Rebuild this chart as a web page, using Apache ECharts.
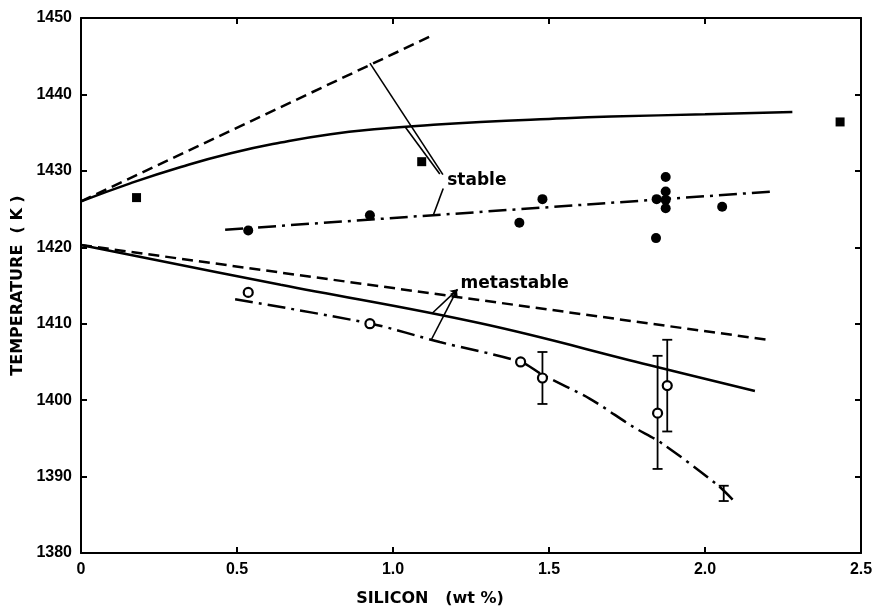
<!DOCTYPE html>
<html>
<head>
<meta charset="utf-8">
<script src="https://cdn.jsdelivr.net/npm/echarts@6/dist/echarts.min.js"></script>
<style>
html,body{margin:0;padding:0;background:#fff;}
#chart{width:877px;height:615px;}
</style>
</head>
<body>
<div id="chart"></div>
<script>
// ---- data (wt % Si, temperature K) ----
const xTickLabels = ['0', '0.5', '1.0', '1.5', '2.0', '2.5'];
const yTickLabels = ['1380', '1390', '1400', '1410', '1420', '1430', '1440', '1450'];

const stableDashed = [[0, 1426.0], [1.12, 1447.6]];
const stableSolid = [[0, 1426.0], [0.16, 1428.4], [0.32, 1430.5], [0.48, 1432.3], [0.64, 1433.7], [0.80, 1434.8], [0.96, 1435.5], [1.12, 1436.0], [1.28, 1436.4], [1.50, 1436.8], [1.70, 1437.1], [2.00, 1437.4], [2.28, 1437.7]];
const stableDashDot = [[0.462, 1422.3], [2.219, 1427.3]];

const metaDashed = [[0, 1420.3], [2.2, 1407.9]];
const metaSolid = [[0, 1420.3], [0.64, 1415.1], [1.28, 1410.05], [1.82, 1404.6], [2.16, 1401.2]];
const metaDashDot = [[0.494, 1413.2], [0.93, 1410.0], [1.15, 1407.6], [1.41, 1405.0], [1.48, 1403.3], [1.63, 1400.2], [1.77, 1396.5], [1.86, 1394.4], [2.04, 1388.9], [2.10, 1386.5]];

const squarePoints = [[0.178, 1426.5], [1.092, 1431.2], [2.433, 1436.4]];
const filledCircles = [[0.536, 1422.2], [0.926, 1424.2], [1.405, 1423.2], [1.479, 1426.3], [1.845, 1426.3], [1.843, 1421.2], [1.874, 1429.2], [1.874, 1427.3], [1.874, 1426.2], [1.874, 1425.1], [2.055, 1425.3]];
const openCircles = [[0.536, 1414.1], [0.926, 1410.0], [1.409, 1405.0], [1.479, 1402.9], [1.848, 1398.3], [1.879, 1401.9]];
// [x, low, high]
const errorBars = [[1.479, 1399.5, 1406.3], [1.848, 1391.0, 1405.8], [1.879, 1395.9, 1407.9], [2.06, 1386.8, 1388.8]];

// annotation leaders (data coordinates)
const stableLeaders = [
  [[0.926, 1444.1], [1.160, 1429.5]],
  [[1.038, 1435.8], [1.150, 1429.6]],
  [[1.161, 1427.7], [1.129, 1424.2]]
];
const metaLeaders = [
  [[1.124, 1411.3], [1.207, 1414.5]],
  [[1.124, 1408.0], [1.205, 1414.4]]
];
const annotationLabels = [[1.172, 1428.7, 'stable'], [1.215, 1415.3, 'metastable']];

const BLACK = '#000';
const tickFont = {fontFamily: 'Liberation Sans', fontWeight: 'bold', fontSize: 16, color: BLACK};
const nameFont = {fontFamily: 'DejaVu Sans', fontWeight: 'bold', fontSize: 16, color: BLACK};

function lineSeries(data, type, smooth) {
  return {
    type: 'line', data: data, symbol: 'none', smooth: smooth || false, silent: true,
    xAxisIndex: 0, yAxisIndex: 0,
    lineStyle: {color: BLACK, width: 2.5, type: type, cap: 'butt', opacity: 1}, z: 3
  };
}

const axisCommon = {
  axisLine: {show: true, onZero: false, lineStyle: {color: BLACK, width: 2}},
  axisTick: {show: true, inside: true, length: 6, lineStyle: {color: BLACK, width: 2}},
  splitLine: {show: false}
};

const chart = echarts.init(document.getElementById('chart'), null, {renderer: 'canvas'});
const option = {
  animation: false,
  backgroundColor: '#fff',
  grid: {left: 81, right: 16, top: 18, bottom: 62},
  xAxis: [
    Object.assign({
      type: 'value', min: 0, max: 2.5, interval: 0.5, position: 'bottom',
      name: 'SILICON   (wt %)', nameLocation: 'middle', nameGap: 38,
      nameTextStyle: Object.assign({}, nameFont, {padding: [0, 82, 0, 0]}),
      axisLabel: Object.assign({margin: 9, formatter: function (v) { return xTickLabels[Math.round(v / 0.5)]; }}, tickFont)
    }, axisCommon),
    Object.assign({
      type: 'value', min: 0, max: 2.5, interval: 0.5, position: 'top',
      axisLabel: {show: false}
    }, axisCommon)
  ],
  yAxis: [
    Object.assign({
      type: 'value', min: 1380, max: 1450, interval: 10, position: 'left',
      name: 'TEMPERATURE  ( K )', nameLocation: 'middle', nameGap: 47,
      nameTextStyle: nameFont,
      axisLabel: Object.assign({margin: 9, formatter: function (v) { return yTickLabels[Math.round((v - 1380) / 10)]; }}, tickFont)
    }, axisCommon),
    Object.assign({
      type: 'value', min: 1380, max: 1450, interval: 10, position: 'right',
      axisLabel: {show: false}
    }, axisCommon)
  ],
  series: [
    lineSeries(stableDashed, [11, 6]),
    lineSeries(stableSolid, 'solid', 0.5),
    lineSeries(stableDashDot, [18, 6, 3, 6]),
    lineSeries(metaDashed, [11, 6]),
    lineSeries(metaSolid, 'solid', 0.4),
    lineSeries(metaDashDot, [18, 6, 3, 6], 0.3),
    {
      type: 'lines', coordinateSystem: 'cartesian2d', silent: true, z: 4,
      lineStyle: {color: BLACK, width: 1.6, opacity: 1},
      data: stableLeaders.map(function (c) { return {coords: c}; })
    },
    {
      type: 'lines', coordinateSystem: 'cartesian2d', silent: true, z: 4,
      symbol: ['none', 'arrow'], symbolSize: 7,
      lineStyle: {color: BLACK, width: 1.6, opacity: 1},
      data: metaLeaders.map(function (c) { return {coords: c}; })
    },
    {
      type: 'custom', silent: true, z: 5,
      data: errorBars,
      encode: {x: 0, y: [1, 2]},
      renderItem: function (params, api) {
        const x = api.value(0);
        const lo = api.coord([x, api.value(1)]);
        const hi = api.coord([x, api.value(2)]);
        const w = 5;
        const st = {stroke: BLACK, lineWidth: 1.8};
        return {
          type: 'group',
          children: [
            {type: 'line', shape: {x1: lo[0], y1: lo[1], x2: hi[0], y2: hi[1]}, style: st},
            {type: 'line', shape: {x1: lo[0] - w, y1: lo[1], x2: lo[0] + w, y2: lo[1]}, style: st},
            {type: 'line', shape: {x1: hi[0] - w, y1: hi[1], x2: hi[0] + w, y2: hi[1]}, style: st}
          ]
        };
      }
    },
    {
      type: 'scatter', data: squarePoints, symbol: 'rect', symbolSize: 9, silent: true, z: 6,
      itemStyle: {color: BLACK, opacity: 1}
    },
    {
      type: 'scatter', data: filledCircles, symbol: 'circle', symbolSize: 10, silent: true, z: 6,
      itemStyle: {color: BLACK, opacity: 1}
    },
    {
      type: 'scatter', data: openCircles, symbol: 'circle', symbolSize: 9, silent: true, z: 6,
      itemStyle: {color: '#fff', borderColor: BLACK, borderWidth: 2.2, opacity: 1}
    },
    {
      type: 'scatter', silent: true, z: 7,
      data: annotationLabels.map(function (a) { return {value: [a[0], a[1]], name: a[2]}; }),
      symbolSize: 1, itemStyle: {color: 'rgba(0,0,0,0)', opacity: 1},
      label: {
        show: true, position: 'right', distance: 0, opacity: 1,
        formatter: function (p) { return p.name; },
        fontFamily: 'DejaVu Sans', fontWeight: 'bold', fontSize: 17, color: BLACK
      }
    }
  ]
};
chart.setOption(option);
</script>
</body>
</html>
